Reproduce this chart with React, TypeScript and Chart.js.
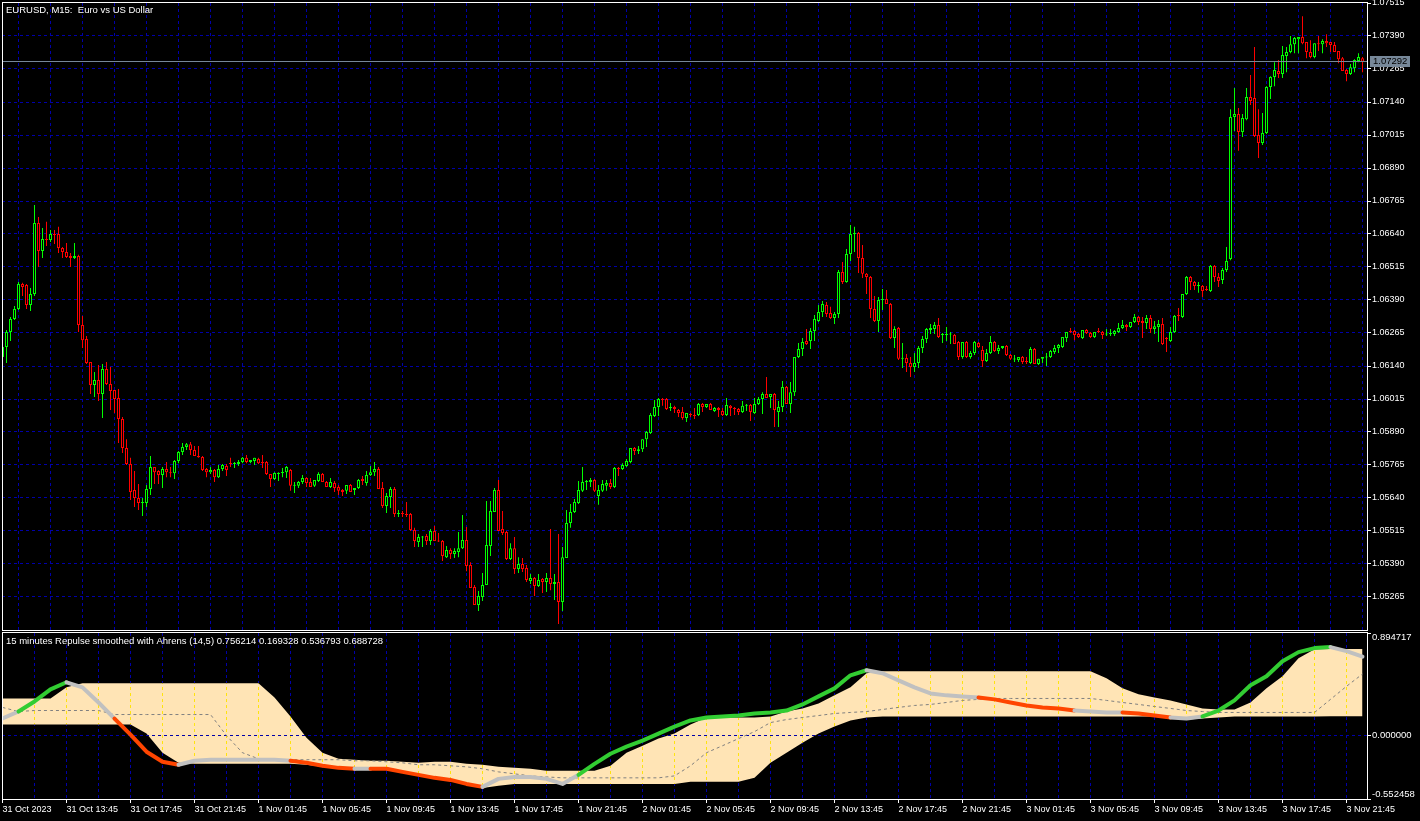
import React, { useEffect, useRef } from 'react';
import { Chart, registerables } from 'chart.js';

Chart.register(...registerables);

// ------------------------------------------------------------------ data
const chartTitle = 'EURUSD, M15:  Euro vs US Dollar';
const indicatorTitle =
  '15 minutes Repulse smoothed with Ahrens (14,5) 0.756214 0.169328 0.536793 0.688728';

// one label every 16 bars (4 hours of M15 bars), starting at bar 0
const timeLabels = [
  '31 Oct 2023', '31 Oct 13:45', '31 Oct 17:45', '31 Oct 21:45',
  '1 Nov 01:45', '1 Nov 05:45', '1 Nov 09:45', '1 Nov 13:45', '1 Nov 17:45', '1 Nov 21:45',
  '2 Nov 01:45', '2 Nov 05:45', '2 Nov 09:45', '2 Nov 13:45', '2 Nov 17:45', '2 Nov 21:45',
  '3 Nov 01:45', '3 Nov 05:45', '3 Nov 09:45', '3 Nov 13:45', '3 Nov 17:45', '3 Nov 21:45',
];

const priceTicks = [
  1.05265, 1.0539, 1.05515, 1.0564, 1.05765, 1.0589, 1.06015, 1.0614, 1.06265, 1.0639,
  1.06515, 1.0664, 1.06765, 1.0689, 1.07015, 1.0714, 1.07265, 1.0739, 1.07515,
];
const priceMin = 1.0514;
const priceMax = 1.07515;
const bidPrice = 1.07292;

const openPrices = [
  1.06174, 1.06212, 1.06269, 1.06318, 1.06356, 1.06451, 1.06447, 1.06371, 1.06413, 1.06682,
  1.06576, 1.06621, 1.06617, 1.0664, 1.0664, 1.06587, 1.06572, 1.06557, 1.06549, 1.06557,
  1.06295, 1.06242, 1.06155, 1.06068, 1.06087, 1.06034, 1.06129, 1.06072, 1.06049, 1.06019,
  1.05939, 1.05829, 1.05769, 1.0567, 1.0564, 1.05621, 1.05621, 1.05674, 1.05757, 1.05742,
  1.05727, 1.0575, 1.05738, 1.05734, 1.0578, 1.05814, 1.05833, 1.05844, 1.05822, 1.05799,
  1.05795, 1.0575, 1.05738, 1.05746, 1.05719, 1.0575, 1.05761, 1.05772, 1.05769, 1.05769,
  1.05776, 1.05792, 1.05776, 1.0578, 1.05788, 1.05776, 1.05776, 1.05731, 1.05712, 1.05731,
  1.05735, 1.05738, 1.05746, 1.05686, 1.05686, 1.05701, 1.05716, 1.05701, 1.05686, 1.05704,
  1.05731, 1.05701, 1.05682, 1.05697, 1.05682, 1.0567, 1.05667, 1.05689, 1.0567, 1.05678,
  1.05712, 1.05697, 1.05727, 1.05738, 1.0575, 1.05678, 1.0561, 1.05644, 1.05674, 1.05579,
  1.05583, 1.05579, 1.05579, 1.05519, 1.05473, 1.0549, 1.05496, 1.05477, 1.05515, 1.05477,
  1.05477, 1.05416, 1.05443, 1.05428, 1.05435, 1.0545, 1.05481, 1.05386, 1.05303, 1.05235,
  1.05265, 1.0531, 1.05458, 1.05587, 1.0567, 1.05523, 1.05511, 1.05409, 1.0545, 1.05371,
  1.0539, 1.05375, 1.05326, 1.05337, 1.05307, 1.05333, 1.05322, 1.05337, 1.05314, 1.05322,
  1.05246, 1.05413, 1.05545, 1.05587, 1.05621, 1.05667, 1.05701, 1.05701, 1.05708, 1.05648,
  1.05667, 1.05686, 1.05697, 1.05682, 1.05754, 1.0575, 1.05761, 1.05776, 1.05829, 1.05818,
  1.05825, 1.05863, 1.05886, 1.05951, 1.05985, 1.06015, 1.06015, 1.05981, 1.05985, 1.05973,
  1.05966, 1.05943, 1.05958, 1.05954, 1.05954, 1.05996, 1.05985, 1.05996, 1.0597, 1.05981,
  1.0597, 1.05954, 1.05989, 1.05981, 1.05977, 1.05966, 1.05989, 1.05992, 1.05962, 1.05996,
  1.06015, 1.06034, 1.06023, 1.06034, 1.05966, 1.05985, 1.0606, 1.05996, 1.06041, 1.06174,
  1.06204, 1.06235, 1.06235, 1.06273, 1.0631, 1.06345, 1.06371, 1.06341, 1.06322, 1.06337,
  1.06496, 1.06458, 1.06564, 1.0664, 1.06644, 1.06549, 1.06489, 1.06477, 1.06356, 1.0631,
  1.0639, 1.06394, 1.06375, 1.06246, 1.06284, 1.06167, 1.0617, 1.06151, 1.06136, 1.06151,
  1.06208, 1.06242, 1.06276, 1.0628, 1.06295, 1.06257, 1.06257, 1.06259, 1.06257, 1.06231,
  1.06174, 1.06231, 1.06174, 1.06189, 1.06227, 1.06201, 1.06159, 1.06189, 1.06231, 1.06197,
  1.06208, 1.06216, 1.06182, 1.06165, 1.06163, 1.06174, 1.06159, 1.06151, 1.06204, 1.06148,
  1.06167, 1.06172, 1.06174, 1.06193, 1.06208, 1.06212, 1.06246, 1.06273, 1.06273, 1.06261,
  1.06246, 1.06276, 1.06265, 1.0625, 1.06273, 1.06269, 1.06259, 1.06261, 1.06261, 1.06269,
  1.06284, 1.06295, 1.06288, 1.06307, 1.06326, 1.0631, 1.06303, 1.06322, 1.0628, 1.06288,
  1.06299, 1.06246, 1.06235, 1.06269, 1.06333, 1.06326, 1.06413, 1.06477, 1.06458, 1.06443,
  1.06443, 1.06432, 1.06424, 1.06519, 1.06477, 1.06466, 1.06504, 1.06545, 1.07083, 1.07095,
  1.07026, 1.07075, 1.07159, 1.07155, 1.07015, 1.06985, 1.07023, 1.07197, 1.07235, 1.07257,
  1.07246, 1.07314, 1.07329, 1.07359, 1.07378, 1.07386, 1.07367, 1.07329, 1.0731, 1.07363,
  1.07359, 1.07371, 1.07367, 1.07356, 1.07333, 1.07306, 1.07261, 1.07246, 1.07268, 1.07295,
  1.07306,
];

const highPrices = [
  1.06227, 1.06276, 1.06326, 1.06367, 1.06458, 1.06455, 1.06451, 1.06435, 1.0675, 1.06704,
  1.06663, 1.06686, 1.06655, 1.06655, 1.06667, 1.06591, 1.06606, 1.06568, 1.06606, 1.06561,
  1.06329, 1.06254, 1.06155, 1.06117, 1.06144, 1.06148, 1.06155, 1.06136, 1.06049, 1.06053,
  1.05947, 1.05863, 1.05792, 1.05742, 1.05693, 1.0564, 1.05689, 1.05799, 1.05757, 1.05745,
  1.05757, 1.05776, 1.05757, 1.05784, 1.05818, 1.05848, 1.05848, 1.05852, 1.05837, 1.05837,
  1.05799, 1.05754, 1.05757, 1.0575, 1.05765, 1.05769, 1.05769, 1.05792, 1.05776, 1.05784,
  1.05795, 1.05803, 1.05784, 1.05792, 1.05792, 1.05803, 1.0578, 1.05731, 1.05738, 1.05738,
  1.05754, 1.05761, 1.0575, 1.05701, 1.05704, 1.05727, 1.05719, 1.05716, 1.05708, 1.05738,
  1.05735, 1.05704, 1.05716, 1.05704, 1.05689, 1.05674, 1.05689, 1.05693, 1.05678, 1.05712,
  1.05723, 1.05742, 1.05761, 1.05776, 1.05757, 1.05701, 1.05659, 1.05682, 1.05682, 1.05595,
  1.05591, 1.05625, 1.05583, 1.05527, 1.05504, 1.05496, 1.05504, 1.05523, 1.05534, 1.05507,
  1.05481, 1.05458, 1.0545, 1.0545, 1.05511, 1.05576, 1.0553, 1.05397, 1.0531, 1.05288,
  1.05356, 1.05629, 1.05629, 1.05678, 1.05708, 1.05591, 1.05515, 1.05469, 1.05492, 1.05416,
  1.05413, 1.05386, 1.05352, 1.05341, 1.05352, 1.05337, 1.05356, 1.05523, 1.05352, 1.05504,
  1.05454, 1.05595, 1.05617, 1.05636, 1.05704, 1.05757, 1.05708, 1.05716, 1.05712, 1.05689,
  1.05708, 1.05708, 1.05712, 1.05757, 1.05757, 1.05772, 1.05788, 1.05829, 1.05833, 1.05837,
  1.05863, 1.05894, 1.05962, 1.06011, 1.06019, 1.06019, 1.06019, 1.06, 1.05989, 1.05977,
  1.05985, 1.05962, 1.05962, 1.05981, 1.06, 1.06, 1.05996, 1.06, 1.05985, 1.05985,
  1.05981, 1.06019, 1.05992, 1.05985, 1.05981, 1.06007, 1.05996, 1.05996, 1.06019, 1.06023,
  1.06041, 1.06098, 1.06034, 1.06038, 1.06007, 1.06083, 1.06064, 1.06079, 1.06174, 1.06227,
  1.06246, 1.0628, 1.06284, 1.06333, 1.06371, 1.06386, 1.06382, 1.06364, 1.06345, 1.06504,
  1.06534, 1.06583, 1.06674, 1.06667, 1.06648, 1.06598, 1.06492, 1.06481, 1.06405, 1.06401,
  1.06432, 1.06428, 1.06379, 1.06291, 1.06288, 1.06227, 1.06185, 1.06174, 1.06189, 1.06216,
  1.06254, 1.06284, 1.06299, 1.06307, 1.06322, 1.06265, 1.06288, 1.06269, 1.06261, 1.06235,
  1.06231, 1.06235, 1.06197, 1.06235, 1.06231, 1.06216, 1.06204, 1.06254, 1.06235, 1.0622,
  1.06216, 1.0622, 1.06185, 1.06182, 1.06174, 1.06178, 1.06174, 1.06212, 1.06208, 1.06167,
  1.06174, 1.06189, 1.06201, 1.0622, 1.06223, 1.0625, 1.06269, 1.06284, 1.06276, 1.06265,
  1.06276, 1.0628, 1.06269, 1.06269, 1.06284, 1.06273, 1.0628, 1.0628, 1.06276, 1.06303,
  1.06314, 1.06299, 1.06307, 1.06337, 1.06329, 1.06326, 1.06333, 1.06333, 1.0631, 1.06314,
  1.06322, 1.0625, 1.06288, 1.06333, 1.0636, 1.06413, 1.06481, 1.06481, 1.06462, 1.06458,
  1.06447, 1.06443, 1.06523, 1.06523, 1.06492, 1.06511, 1.06591, 1.07113, 1.07193, 1.07117,
  1.07095, 1.07193, 1.07242, 1.07348, 1.07113, 1.07098, 1.072, 1.07238, 1.07291, 1.07299,
  1.07352, 1.07348, 1.0739, 1.07386, 1.07386, 1.07465, 1.07367, 1.07374, 1.07363, 1.0739,
  1.07378, 1.07397, 1.07367, 1.07367, 1.07333, 1.0731, 1.07265, 1.07284, 1.07302, 1.07325,
  1.0731,
];

const lowPrices = [
  1.06144, 1.06151, 1.06235, 1.06314, 1.06352, 1.06405, 1.06356, 1.06348, 1.06405, 1.06515,
  1.06549, 1.06595, 1.0661, 1.06602, 1.06568, 1.06549, 1.06549, 1.06515, 1.06545, 1.06269,
  1.06208, 1.06148, 1.06034, 1.06023, 1.06007, 1.05943, 1.06068, 1.05973, 1.05962, 1.05848,
  1.0581, 1.05765, 1.05632, 1.05606, 1.05595, 1.05572, 1.05606, 1.05651, 1.05693, 1.05693,
  1.05678, 1.05719, 1.05719, 1.05712, 1.05772, 1.05803, 1.05822, 1.05803, 1.05799, 1.05792,
  1.05742, 1.05719, 1.05731, 1.05701, 1.05716, 1.05742, 1.05723, 1.05757, 1.05754, 1.05761,
  1.05772, 1.05772, 1.05772, 1.05765, 1.05769, 1.05754, 1.05727, 1.05682, 1.05708, 1.05704,
  1.05719, 1.05716, 1.05667, 1.05659, 1.05678, 1.05693, 1.05682, 1.05682, 1.05682, 1.05701,
  1.05701, 1.05682, 1.05678, 1.05663, 1.05651, 1.05648, 1.05655, 1.05663, 1.05651, 1.05674,
  1.05689, 1.05686, 1.05723, 1.05723, 1.05674, 1.05602, 1.05583, 1.05602, 1.05568, 1.05568,
  1.05568, 1.05568, 1.05515, 1.05454, 1.05454, 1.05454, 1.05462, 1.05462, 1.05477, 1.05473,
  1.05401, 1.05413, 1.05409, 1.05413, 1.05416, 1.05447, 1.05363, 1.05299, 1.05235, 1.05212,
  1.0525, 1.0531, 1.0542, 1.05587, 1.05515, 1.055, 1.05405, 1.05405, 1.05352, 1.05356,
  1.0536, 1.05322, 1.05314, 1.05269, 1.05303, 1.0528, 1.05284, 1.05291, 1.05254, 1.05163,
  1.05212, 1.05413, 1.05527, 1.05583, 1.05617, 1.05663, 1.0567, 1.05682, 1.05663, 1.05614,
  1.05663, 1.05667, 1.05674, 1.05678, 1.05723, 1.05746, 1.05757, 1.05772, 1.05803, 1.05807,
  1.05814, 1.05833, 1.05882, 1.05947, 1.05951, 1.05989, 1.05973, 1.0597, 1.05962, 1.05947,
  1.05936, 1.05928, 1.05947, 1.05939, 1.05951, 1.05966, 1.05981, 1.05973, 1.05966, 1.05947,
  1.05951, 1.05951, 1.05951, 1.05954, 1.05954, 1.05962, 1.0597, 1.05932, 1.05958, 1.05992,
  1.05958, 1.06019, 1.05981, 1.05909, 1.05909, 1.05966, 1.05996, 1.05962, 1.06026, 1.0617,
  1.06178, 1.0622, 1.06204, 1.06235, 1.06307, 1.06326, 1.06326, 1.06318, 1.06299, 1.06322,
  1.06451, 1.06455, 1.06538, 1.06572, 1.06492, 1.06473, 1.06413, 1.06322, 1.06307, 1.06269,
  1.06352, 1.06375, 1.06242, 1.06208, 1.06163, 1.06132, 1.06117, 1.06098, 1.06117, 1.06132,
  1.06189, 1.06227, 1.06261, 1.06261, 1.06246, 1.06227, 1.06235, 1.06223, 1.06223, 1.06163,
  1.06167, 1.0617, 1.06167, 1.06182, 1.06208, 1.06136, 1.06155, 1.06185, 1.06193, 1.06185,
  1.06204, 1.06178, 1.06163, 1.06155, 1.06155, 1.06148, 1.06148, 1.06148, 1.06148, 1.06144,
  1.06151, 1.0614, 1.0617, 1.06185, 1.06189, 1.06208, 1.06231, 1.06265, 1.06238, 1.06246,
  1.06242, 1.06261, 1.06246, 1.06246, 1.06265, 1.06242, 1.06254, 1.06254, 1.06254, 1.06265,
  1.0628, 1.06273, 1.06284, 1.06303, 1.06295, 1.06246, 1.0628, 1.06265, 1.06261, 1.06231,
  1.0622, 1.06193, 1.06231, 1.06265, 1.0631, 1.06322, 1.06409, 1.06428, 1.06428, 1.06417,
  1.06401, 1.06424, 1.0642, 1.06458, 1.06439, 1.06451, 1.06496, 1.06541, 1.0703, 1.06955,
  1.07007, 1.07071, 1.07129, 1.07007, 1.06928, 1.06977, 1.07019, 1.07151, 1.072, 1.07231,
  1.07231, 1.07253, 1.07325, 1.07325, 1.07325, 1.07359, 1.07306, 1.07306, 1.07306, 1.07333,
  1.07325, 1.07348, 1.07329, 1.07329, 1.07287, 1.07257, 1.07219, 1.07242, 1.07253, 1.07291,
  1.07253,
];

const closePrices = [
  1.06212, 1.06269, 1.06318, 1.06356, 1.06451, 1.06439, 1.06371, 1.06413, 1.06682, 1.06576,
  1.06621, 1.06617, 1.0664, 1.06636, 1.06587, 1.06572, 1.06553, 1.06549, 1.06557, 1.06295,
  1.06238, 1.06151, 1.06068, 1.06087, 1.06034, 1.06129, 1.06072, 1.06045, 1.06015, 1.05939,
  1.05829, 1.05769, 1.05663, 1.0564, 1.05621, 1.05625, 1.05674, 1.05757, 1.05738, 1.05727,
  1.0575, 1.05738, 1.05734, 1.0578, 1.05814, 1.05833, 1.05844, 1.05822, 1.05799, 1.05794,
  1.05746, 1.05738, 1.05746, 1.05719, 1.0575, 1.05765, 1.05746, 1.05769, 1.05772, 1.05776,
  1.05792, 1.05776, 1.05784, 1.05792, 1.05772, 1.05772, 1.05731, 1.05712, 1.05735, 1.05735,
  1.05738, 1.05757, 1.05686, 1.05689, 1.05701, 1.05716, 1.05697, 1.05682, 1.05708, 1.05731,
  1.05701, 1.05682, 1.05701, 1.05678, 1.05667, 1.05663, 1.05689, 1.05663, 1.05678, 1.05708,
  1.05704, 1.05727, 1.05738, 1.0575, 1.05674, 1.0561, 1.05648, 1.05674, 1.05579, 1.05583,
  1.05579, 1.05576, 1.05519, 1.05477, 1.05492, 1.05494, 1.05477, 1.05515, 1.05477, 1.05475,
  1.0542, 1.05443, 1.05428, 1.05439, 1.0545, 1.05481, 1.05382, 1.05299, 1.05235, 1.05269,
  1.0531, 1.05462, 1.05591, 1.0567, 1.05515, 1.05507, 1.05409, 1.0545, 1.05371, 1.0539,
  1.05371, 1.05329, 1.05337, 1.05307, 1.05329, 1.05322, 1.05337, 1.05314, 1.05322, 1.05246,
  1.05416, 1.05545, 1.05587, 1.05625, 1.0567, 1.05701, 1.05703, 1.05708, 1.05667, 1.0567,
  1.05693, 1.05697, 1.05682, 1.05754, 1.0575, 1.05765, 1.0578, 1.05829, 1.05818, 1.05825,
  1.05863, 1.0589, 1.05954, 1.05985, 1.06015, 1.06011, 1.05977, 1.05985, 1.05977, 1.05962,
  1.05943, 1.05962, 1.05954, 1.05951, 1.05996, 1.05985, 1.05996, 1.05973, 1.05981, 1.05973,
  1.05954, 1.05992, 1.05981, 1.05977, 1.05966, 1.05989, 1.05992, 1.05966, 1.05996, 1.06015,
  1.06034, 1.06019, 1.06034, 1.05973, 1.05985, 1.0606, 1.05996, 1.06041, 1.06174, 1.06204,
  1.06231, 1.06223, 1.06273, 1.06318, 1.06345, 1.06375, 1.06337, 1.06322, 1.06337, 1.06496,
  1.06458, 1.06564, 1.0664, 1.06644, 1.06549, 1.06489, 1.06477, 1.06356, 1.0631, 1.0639,
  1.06394, 1.06375, 1.06246, 1.0628, 1.06167, 1.0617, 1.06151, 1.06136, 1.06151, 1.06208,
  1.06242, 1.0628, 1.06284, 1.06295, 1.0625, 1.06261, 1.06261, 1.06261, 1.06223, 1.06174,
  1.06231, 1.06174, 1.06189, 1.06231, 1.06212, 1.06159, 1.06189, 1.06231, 1.06197, 1.06208,
  1.06216, 1.06182, 1.06167, 1.06167, 1.06174, 1.06155, 1.06155, 1.06204, 1.06148, 1.06167,
  1.06174, 1.06174, 1.06197, 1.06208, 1.0622, 1.0625, 1.06269, 1.06269, 1.06257, 1.0625,
  1.06276, 1.06265, 1.0625, 1.06269, 1.06269, 1.06257, 1.06261, 1.06265, 1.06273, 1.06284,
  1.06295, 1.06288, 1.06307, 1.06326, 1.06307, 1.06303, 1.06322, 1.0628, 1.06291, 1.06299,
  1.06223, 1.06242, 1.06269, 1.06329, 1.06329, 1.06413, 1.06477, 1.06458, 1.06443, 1.06447,
  1.06424, 1.06428, 1.06519, 1.06477, 1.06462, 1.06504, 1.06538, 1.07083, 1.07095, 1.07026,
  1.07079, 1.07159, 1.07144, 1.07011, 1.06985, 1.07023, 1.07197, 1.07235, 1.07261, 1.07246,
  1.07318, 1.07329, 1.07359, 1.07382, 1.07386, 1.07363, 1.07329, 1.0731, 1.07363, 1.07359,
  1.07371, 1.07363, 1.07356, 1.07329, 1.07302, 1.07257, 1.07246, 1.07272, 1.07299, 1.0731,
  1.07292,
];

// indicator panel: one reading every 4 bars (bar 0, 4, 8 ... 340)
const indicatorMin = -0.552458;
const indicatorMax = 0.894717;
const indicatorTicks = [-0.552458, 0, 0.894717];
const indicatorSampleStep = 4;

const repulse = [
  0.149, 0.21, 0.298, 0.403, 0.465, 0.421, 0.289, 0.149, 0.009, -0.14,
  -0.228, -0.254, -0.219, -0.21, -0.21, -0.21, -0.21, -0.21, -0.219, -0.237,
  -0.263, -0.281, -0.289, -0.289, -0.289, -0.316, -0.342, -0.368, -0.386, -0.421,
  -0.447, -0.377, -0.36, -0.36, -0.377, -0.421, -0.342, -0.246, -0.158, -0.096,
  -0.044, 0.018, 0.079, 0.132, 0.158, 0.167, 0.175, 0.193, 0.202, 0.219,
  0.272, 0.342, 0.412, 0.526, 0.57, 0.544, 0.482, 0.421, 0.368, 0.351,
  0.342, 0.333, 0.316, 0.289, 0.263, 0.246, 0.237, 0.219, 0.21, 0.202,
  0.202, 0.193, 0.175, 0.158, 0.149, 0.167, 0.219, 0.307, 0.439, 0.517,
  0.649, 0.728, 0.763, 0.772, 0.737, 0.689,
];
// u = rising (green), d = falling (red), n = neutral (silver)
const repulseTrend = [
  'n', 'n', 'u', 'u', 'u', 'n', 'n', 'n', 'd', 'd',
  'd', 'd', 'n', 'n', 'n', 'n', 'n', 'n', 'n', 'd',
  'd', 'd', 'd', 'n', 'd', 'd', 'd', 'd', 'd', 'd',
  'd', 'n', 'n', 'n', 'n', 'n', 'n', 'u', 'u', 'u',
  'u', 'u', 'u', 'u', 'u', 'u', 'u', 'u', 'u', 'u',
  'u', 'u', 'u', 'u', 'u', 'n', 'n', 'n', 'n', 'n',
  'n', 'n', 'd', 'd', 'd', 'd', 'd', 'd', 'n', 'n',
  'n', 'd', 'd', 'd', 'n', 'n', 'u', 'u', 'u', 'u',
  'u', 'u', 'u', 'u', 'n', 'n',
];
const upperBand = [
  0.324, 0.324, 0.324, 0.324, 0.421, 0.456, 0.456, 0.456, 0.456, 0.456,
  0.456, 0.456, 0.456, 0.456, 0.456, 0.456, 0.456, 0.333, 0.167, -0.018,
  -0.149, -0.202, -0.21, -0.219, -0.219, -0.228, -0.237, -0.228, -0.228, -0.246,
  -0.254, -0.272, -0.281, -0.289, -0.307, -0.307, -0.307, -0.307, -0.263, -0.149,
  -0.088, -0.026, 0.018, 0.096, 0.158, 0.158, 0.158, 0.158, 0.167, 0.21,
  0.237, 0.281, 0.351, 0.421, 0.544, 0.561, 0.561, 0.561, 0.561, 0.561,
  0.561, 0.561, 0.561, 0.561, 0.561, 0.561, 0.561, 0.561, 0.561, 0.5,
  0.412, 0.36, 0.333, 0.307, 0.272, 0.237, 0.228, 0.228, 0.289, 0.412,
  0.517, 0.675, 0.754, 0.756, 0.756, 0.756,
];
const lowerBand = [
  0.096, 0.096, 0.096, 0.096, 0.096, 0.096, 0.096, 0.096, 0.096, 0.018,
  -0.149, -0.237, -0.246, -0.246, -0.246, -0.246, -0.246, -0.246, -0.246, -0.254,
  -0.272, -0.289, -0.298, -0.298, -0.298, -0.324, -0.351, -0.377, -0.395, -0.43,
  -0.456, -0.438, -0.421, -0.421, -0.421, -0.421, -0.421, -0.421, -0.421, -0.421,
  -0.421, -0.421, -0.421, -0.403, -0.403, -0.403, -0.403, -0.368, -0.237, -0.149,
  -0.061, 0.018, 0.079, 0.132, 0.158, 0.167, 0.167, 0.167, 0.167, 0.167,
  0.167, 0.167, 0.167, 0.167, 0.167, 0.167, 0.167, 0.167, 0.167, 0.167,
  0.167, 0.167, 0.167, 0.149, 0.14, 0.149, 0.158, 0.167, 0.167, 0.167,
  0.167, 0.167, 0.167, 0.169, 0.169, 0.169,
];
const signalLine = [
  0.246, 0.21, 0.219, 0.219, 0.219, 0.219, 0.219, 0.184, 0.184, 0.184,
  0.184, 0.184, 0.184, 0.184, 0.0, -0.149, -0.202, -0.21, -0.21, -0.21,
  -0.21, -0.21, -0.219, -0.219, -0.228, -0.237, -0.254, -0.254, -0.263, -0.272,
  -0.289, -0.316, -0.333, -0.351, -0.36, -0.368, -0.368, -0.368, -0.368, -0.368,
  -0.368, -0.368, -0.351, -0.263, -0.149, -0.088, -0.026, 0.035, 0.114, 0.14,
  0.158, 0.175, 0.193, 0.202, 0.21, 0.228, 0.246, 0.263, 0.272, 0.289,
  0.307, 0.316, 0.324, 0.324, 0.324, 0.324, 0.324, 0.324, 0.324, 0.307,
  0.289, 0.272, 0.254, 0.237, 0.219, 0.21, 0.202, 0.202, 0.202, 0.202,
  0.202, 0.202, 0.202, 0.316, 0.43, 0.537,
];

// ------------------------------------------------------------------ style
const FONT = { family: "'Liberation Sans', Arial, sans-serif", size: 9 };
const FONT_CSS = "9.5px 'Liberation Sans', Arial, sans-serif";
const WHITE = '#ffffff';
const GRID = 'rgb(0,0,170)';
const DASH = [3, 3];
const BULL = '#00ff00';
const BEAR = '#ff0000';
const BID = 'rgb(119,136,153)';
const BAND = 'rgb(255,228,181)';
const TREND_COLORS: Record<string, string> = {
  u: 'rgb(50,205,50)',
  d: 'rgb(255,69,0)',
  n: 'rgb(192,192,192)',
};
const CLEAR = 'rgba(0,0,0,0)';

const BARS_PER_GRID = 8;
const BARS_PER_LABEL = 16;
const X_MIN = -0.125;
const X_MAX = 341.125;
const AXIS_WIDTH = 53;

function gridTicks() {
  const t: any[] = [];
  for (let v = 0; v < closePrices.length; v += BARS_PER_GRID) t.push({ value: v });
  return t;
}

function drawFrame(ctx: CanvasRenderingContext2D, a: any) {
  ctx.fillStyle = WHITE;
  const w = a.right - a.left + 1;
  ctx.fillRect(a.left, a.top - 1, w, 1);
  ctx.fillRect(a.left, a.bottom, w, 1);
  ctx.fillRect(a.left, a.top - 1, 1, a.bottom - a.top + 2);
  ctx.fillRect(a.right, a.top - 1, 1, a.bottom - a.top + 2);
}

const background = {
  id: 'background',
  beforeDraw(chart: any) {
    const { ctx, width, height } = chart;
    ctx.save();
    ctx.fillStyle = '#000';
    ctx.fillRect(0, 0, width, height);
    ctx.restore();
  },
};

const mainDecor = {
  id: 'mainDecor',
  afterDraw(chart: any) {
    const { ctx, chartArea: a, scales } = chart;
    ctx.save();
    // bid line
    const py = Math.round(scales.y.getPixelForValue(bidPrice) - 0.5);
    ctx.fillStyle = BID;
    ctx.fillRect(a.left + 1, py, a.right - a.left - 1, 1);
    drawFrame(ctx, a);
    // bid label
    ctx.fillStyle = BID;
    ctx.fillRect(a.right + 3, py - 5, 40, 11);
    ctx.fillStyle = '#000';
    ctx.font = FONT_CSS;
    ctx.textBaseline = 'middle';
    ctx.textAlign = 'left';
    ctx.fillText(bidPrice.toFixed(5), a.right + 6, py + 0.5);
    // title
    ctx.fillStyle = WHITE;
    ctx.fillText(chartTitle, 6, 10);
    ctx.restore();
  },
};

const indicatorDecor = {
  id: 'indicatorDecor',
  afterDatasetDraw(chart: any, args: any) {
    if (args.index !== 2) return;
    const { ctx, chartArea: a, scales } = chart;
    ctx.save();
    ctx.beginPath();
    ctx.rect(a.left, a.top, a.right - a.left, a.bottom - a.top);
    ctx.clip();
    ctx.lineWidth = 1;
    ctx.strokeStyle = GRID;
    ctx.setLineDash(DASH);
    ctx.globalCompositeOperation = 'difference';
    for (const t of gridTicks()) {
      if (t.value === 0) continue;
      const px = Math.round(scales.x.getPixelForValue(t.value) - 0.5) + 0.5;
      ctx.beginPath();
      ctx.moveTo(px, a.top);
      ctx.lineTo(px, a.bottom);
      ctx.stroke();
    }
    ctx.globalCompositeOperation = 'source-over';
    const zy = Math.round(scales.y.getPixelForValue(0) - 0.5) + 0.5;
    ctx.beginPath();
    ctx.moveTo(a.left, zy);
    ctx.lineTo(a.right, zy);
    ctx.stroke();
    ctx.restore();
  },
  afterDraw(chart: any) {
    const { ctx, chartArea: a, scales } = chart;
    ctx.save();
    drawFrame(ctx, a);
    ctx.fillStyle = WHITE;
    ctx.font = FONT_CSS;
    ctx.textBaseline = 'middle';
    ctx.textAlign = 'left';
    ctx.fillText(indicatorTitle, 6, 10.5);
    for (const v of indicatorTicks) {
      let y = scales.y.getPixelForValue(v);
      y = Math.min(Math.max(y, a.top + 4), a.bottom - 5);
      ctx.fillText(v.toFixed(6), a.right + 5, y);
    }
    ctx.restore();
  },
};

function mainConfig(): any {
  const colors = closePrices.map((c, i) => (c >= openPrices[i] ? BULL : BEAR));
  const bodies = closePrices.map((c, i) => ({ x: i, y: [openPrices[i], c] }));
  const wicks = closePrices.map((_, i) => ({ x: i, y: [lowPrices[i], highPrices[i]] }));
  return {
    type: 'bar',
    data: {
      datasets: [
        {
          label: 'body',
          data: bodies,
          backgroundColor: '#000',
          borderColor: colors,
          borderWidth: 1,
          borderSkipped: false,
          barThickness: 3,
          minBarLength: 1,
          grouped: false,
          inflateAmount: 0,
        },
        {
          label: 'wick',
          data: wicks,
          backgroundColor: colors,
          borderWidth: 0,
          barThickness: 1,
          grouped: false,
          inflateAmount: 0,
        },
      ],
    },
    options: {
      responsive: false,
      animation: false,
      devicePixelRatio: 1,
      events: [],
      layout: { padding: { top: 3, left: 2, right: 0, bottom: 1 }, autoPadding: false },
      plugins: { legend: { display: false }, tooltip: { enabled: false } },
      scales: {
        x: {
          type: 'linear',
          min: X_MIN,
          max: X_MAX,
          offset: false,
          afterBuildTicks: (s: any) => { s.ticks = gridTicks(); },
          afterFit: (s: any) => { s.height = 0; s.paddingLeft = 0; s.paddingRight = 0; },
          ticks: { display: false },
          grid: { color: GRID, drawTicks: false, lineWidth: 1 },
          border: { display: false, dash: DASH },
        },
        y: {
          type: 'linear',
          position: 'right',
          min: priceMin,
          max: priceMax,
          afterBuildTicks: (s: any) => { s.ticks = priceTicks.map((v) => ({ value: v })); },
          afterFit: (s: any) => { s.width = AXIS_WIDTH; s.paddingTop = 0; s.paddingBottom = 0; },
          ticks: {
            color: WHITE,
            font: FONT,
            padding: 1,
            autoSkip: false,
            callback: (v: any) => Number(v).toFixed(5),
          },
          grid: {
            color: (c: any) => (c.tick && c.tick.value >= priceMax ? CLEAR : GRID),
            tickColor: WHITE,
            tickLength: 4,
            tickBorderDash: [],
            drawTicks: true,
          },
          border: { display: false, dash: DASH },
        },
      },
    },
    plugins: [background, mainDecor],
  };
}

function indicatorConfig(): any {
  const pts = (arr: number[]) => arr.map((v, i) => ({ x: i * indicatorSampleStep, y: v }));
  return {
    type: 'line',
    data: {
      datasets: [
        {
          label: 'Repulse',
          data: pts(repulse),
          borderWidth: 4,
          borderColor: TREND_COLORS.n,
          segment: { borderColor: (c: any) => TREND_COLORS[repulseTrend[c.p1DataIndex]] },
          borderCapStyle: 'round',
          borderJoinStyle: 'round',
          pointRadius: 0,
          fill: false,
          order: 0,
        },
        {
          label: 'Signal',
          data: pts(signalLine),
          borderWidth: 1,
          borderColor: 'rgb(128,128,128)',
          borderDash: DASH,
          pointRadius: 0,
          fill: false,
          order: 1,
        },
        {
          label: 'Upper',
          data: pts(upperBand),
          borderWidth: 0,
          borderColor: CLEAR,
          backgroundColor: BAND,
          pointRadius: 0,
          fill: '+1',
          order: 2,
        },
        {
          label: 'Lower',
          data: pts(lowerBand),
          borderWidth: 0,
          borderColor: CLEAR,
          pointRadius: 0,
          fill: false,
          order: 3,
        },
      ],
    },
    options: {
      responsive: false,
      animation: false,
      devicePixelRatio: 1,
      events: [],
      layout: { padding: { top: 2, left: 2, right: 0, bottom: 0 }, autoPadding: false },
      plugins: { legend: { display: false }, tooltip: { enabled: false } },
      scales: {
        x: {
          type: 'linear',
          min: X_MIN,
          max: X_MAX,
          offset: false,
          afterBuildTicks: (s: any) => { s.ticks = gridTicks(); },
          afterFit: (s: any) => { s.height = 22; s.paddingLeft = 0; s.paddingRight = 0; },
          ticks: {
            color: WHITE,
            font: FONT,
            align: 'start',
            padding: 1,
            autoSkip: false,
            maxRotation: 0,
            minRotation: 0,
            callback: (v: any) => (v % BARS_PER_LABEL === 0 ? timeLabels[v / BARS_PER_LABEL] : ''),
          },
          grid: {
            drawOnChartArea: false,
            drawTicks: true,
            tickLength: 4,
            tickBorderDash: [],
            tickColor: (c: any) => (c.tick && c.tick.value % BARS_PER_LABEL === 0 ? WHITE : CLEAR),
          },
          border: { display: false },
        },
        y: {
          type: 'linear',
          position: 'right',
          min: indicatorMin,
          max: indicatorMax,
          afterBuildTicks: (s: any) => { s.ticks = indicatorTicks.map((v) => ({ value: v })); },
          afterFit: (s: any) => { s.width = AXIS_WIDTH; s.paddingTop = 0; s.paddingBottom = 0; },
          ticks: { display: false },
          grid: { drawOnChartArea: false, drawTicks: true, tickLength: 4, tickColor: WHITE, tickBorderDash: [] },
          border: { display: false },
        },
      },
    },
    plugins: [background, indicatorDecor],
  };
}

export default function App() {
  const mainRef = useRef<HTMLCanvasElement>(null);
  const indRef = useRef<HTMLCanvasElement>(null);

  useEffect(() => {
    const c1 = new Chart(mainRef.current as HTMLCanvasElement, mainConfig());
    const c2 = new Chart(indRef.current as HTMLCanvasElement, indicatorConfig());
    return () => {
      c1.destroy();
      c2.destroy();
    };
  }, []);

  return (
    <div
      style={{
        position: 'fixed',
        left: 0,
        top: 0,
        width: 1420,
        height: 821,
        background: '#000',
        overflow: 'hidden',
      }}
    >
      <canvas
        ref={mainRef}
        width={1420}
        height={631}
        style={{ position: 'absolute', left: 0, top: 0, width: 1420, height: 631 }}
      />
      <canvas
        ref={indRef}
        width={1420}
        height={190}
        style={{ position: 'absolute', left: 0, top: 631, width: 1420, height: 190 }}
      />
    </div>
  );
}
